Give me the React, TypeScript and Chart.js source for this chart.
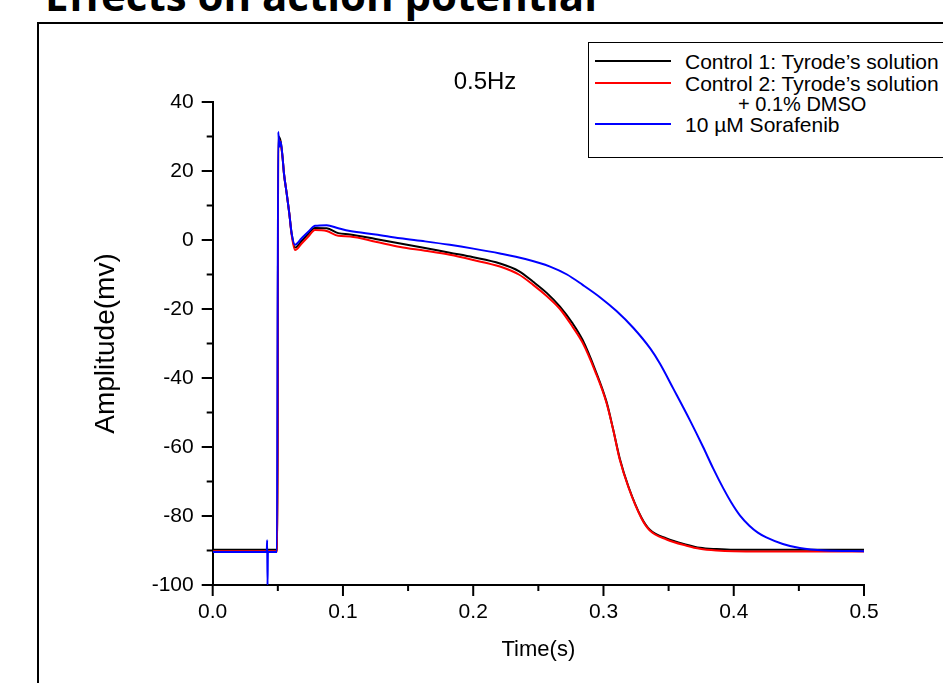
import React, { useEffect, useRef } from "react";
import { Chart, registerables } from "chart.js";

Chart.register(...registerables);

// Time (s) and membrane potential (mV)
const controlTime = [0, 0.0497, 0.0503, 0.0522, 0.0537, 0.0547, 0.0568, 0.0588, 0.0606, 0.0632, 0.0683, 0.0734, 0.0785, 0.0875, 0.0964, 0.1054, 0.125, 0.144, 0.163, 0.182, 0.2, 0.2205, 0.235, 0.246, 0.2566, 0.2666, 0.276, 0.284, 0.2935, 0.3024, 0.3075, 0.3126, 0.319, 0.3292, 0.3356, 0.3484, 0.3638, 0.374, 0.3868, 0.4, 0.45, 0.5];
const control1Mv = [-89.8, -89.8, 30, 28.5, 23.7, 19.3, 13.5, 7.7, 1.9, -2.2, -0.3, 1.8, 3.5, 3.4, 2.0, 1.6, 0.3, -1.0, -2.3, -3.7, -5.0, -6.8, -9.0, -12.1, -15.4, -19.3, -24, -29, -37.5, -47, -55, -63.5, -71.3, -80.5, -84, -86.5, -88.3, -89.2, -89.6, -89.8, -89.8, -89.8];
const control2Mv = [-90.2, -90.2, 29, 28, 23.7, 19.3, 13.5, 7.7, 1.5, -2.9, -1.0, 1.0, 2.9, 2.6, 1.2, 1.0, -0.5, -2.0, -3.1, -4.3, -5.8, -7.7, -10, -13.0, -16.3, -20.0, -25, -29.8, -38, -47.3, -55.1, -63.8, -71.5, -80.7, -84.2, -86.8, -88.6, -89.5, -90.0, -90.2, -90.3, -90.3];
const sorafenibTime = [0, 0.0415, 0.0418, 0.0421, 0.0424, 0.0485, 0.0493, 0.0503, 0.0512, 0.0522, 0.0537, 0.0547, 0.0568, 0.0588, 0.0606, 0.0632, 0.0683, 0.0734, 0.0785, 0.0875, 0.0964, 0.1054, 0.125, 0.144, 0.163, 0.182, 0.2, 0.2205, 0.24, 0.259, 0.272, 0.284, 0.297, 0.31, 0.323, 0.336, 0.3433, 0.3535, 0.3663, 0.3765, 0.3842, 0.392, 0.398, 0.4047, 0.412, 0.4185, 0.425, 0.4377, 0.4507, 0.47, 0.5];
const sorafenibMv = [-90.4, -90.4, -87, -100, -90.4, -90.4, -90.4, 31.4, 27, 28.5, 23.7, 19.3, 13.5, 7.7, 1.9, -1.4, 0.5, 2.4, 4.1, 4.3, 3.4, 2.6, 1.6, 0.5, -0.4, -1.4, -2.5, -3.9, -5.5, -7.7, -10, -13, -16.5, -20.6, -25.5, -31.5, -35.8, -43.0, -52.2, -60.0, -66.2, -72.0, -76.0, -79.8, -82.8, -84.8, -86.2, -88.1, -89.3, -90.0, -90.2];

const seriesNames = ["Control 1: Tyrode\u2019s solution", "Control 2: Tyrode\u2019s solution", "10 \u00b5M Sorafenib"];
const seriesNote = "+ 0.1% DMSO";
const seriesColors = ["#000000", "#ff0000", "#0000ff"];
const frequencyLabel = "0.5Hz";
const pageTitle = "Effects on action potential";

const xMarks = [0, 0.05, 0.1, 0.15, 0.2, 0.25, 0.3, 0.35, 0.4, 0.45, 0.5];
const yMarks = [-100, -90, -80, -70, -60, -50, -40, -30, -20, -10, 0, 10, 20, 30, 40];

const FONT = "'Liberation Sans', Arial, sans-serif";

const tickMarks = {
  id: "tickMarks",
  afterDraw(chart: any) {
    const { ctx, chartArea, scales } = chart;
    const x = scales.x;
    const y = scales.y;
    ctx.save();
    ctx.strokeStyle = "#000";
    ctx.lineWidth = 2;
    ctx.beginPath();
    xMarks.forEach((v, i) => {
      const px = x.getPixelForValue(v);
      const len = i % 2 === 0 ? 11 : 6;
      ctx.moveTo(px, chartArea.bottom);
      ctx.lineTo(px, chartArea.bottom + len);
    });
    yMarks.forEach((v, i) => {
      const py = y.getPixelForValue(v);
      const len = i % 2 === 0 ? 11 : 6;
      ctx.moveTo(chartArea.left, py);
      ctx.lineTo(chartArea.left - len, py);
    });
    ctx.stroke();
    ctx.restore();
  },
};

function toPoints(t: number[], v: number[]) {
  return t.map((tt, i) => ({ x: tt, y: v[i] }));
}

export default function App() {
  const ref = useRef<HTMLCanvasElement | null>(null);

  useEffect(() => {
    if (!ref.current) return;
    const mk = (label: string, color: string, data: any[], order: number) => ({
      label,
      data,
      borderColor: color,
      backgroundColor: color,
      borderWidth: 2,
      pointRadius: 0,
      fill: false,
      cubicInterpolationMode: "monotone" as const,
      order,
    });
    const chart = new Chart(ref.current, {
      type: "line",
      data: {
        datasets: [
          mk(seriesNames[0], seriesColors[0], toPoints(controlTime, control1Mv), 2),
          mk(seriesNames[1], seriesColors[1], toPoints(controlTime, control2Mv), 1),
          mk(seriesNames[2], seriesColors[2], toPoints(sorafenibTime, sorafenibMv), 0),
        ],
      },
      options: {
        animation: false,
        responsive: false,
        events: [],
        layout: { padding: { left: 0, right: 79, top: 102, bottom: 0 } },
        plugins: { legend: { display: false }, tooltip: { enabled: false } },
        scales: {
          x: {
            type: "linear",
            min: 0,
            max: 0.5,
            afterFit: (s: any) => { s.height = 98; },
            grid: { display: false, drawTicks: true, tickLength: 11 },
            border: { display: true, color: "#000", width: 2 },
            ticks: {
              stepSize: 0.1,
              padding: 4,
              color: "#000",
              maxRotation: 0,
              font: { family: FONT, size: 21 },
              callback: (v: any) => Number(v).toFixed(1),
            },
            title: {
              display: true,
              text: "Time(s)",
              color: "#000",
              font: { family: FONT, size: 22 },
              padding: { top: 0, bottom: 20 },
            },
          },
          y: {
            type: "linear",
            min: -100,
            max: 40,
            afterFit: (s: any) => { s.width = 212.7; },
            grid: { display: false, drawTicks: true, tickLength: 11 },
            border: { display: true, color: "#000", width: 2 },
            ticks: {
              stepSize: 20,
              padding: 8,
              color: "#000",
              font: { family: FONT, size: 21 },
              callback: (v: any) => String(v),
            },
            title: {
              display: true,
              text: "Amplitude(mv)",
              color: "#000",
              font: { family: FONT, size: 28 },
              padding: { top: 89, bottom: 0 },
            },
          },
        },
      },
      plugins: [tickMarks],
    });
    return () => chart.destroy();
  }, []);

  const legendRows = [
    { y: 61, color: seriesColors[0], text: seriesNames[0] },
    { y: 83, color: seriesColors[1], text: seriesNames[1] },
    { y: 124, color: seriesColors[2], text: seriesNames[2] },
  ];

  const textStyle = (size: number): React.CSSProperties => ({
    fontFamily: FONT,
    fontSize: size,
    lineHeight: 1,
    whiteSpace: "nowrap",
    color: "#000",
  });

  return (
    <div style={{ position: "fixed", left: 0, top: 0, width: 943, height: 683, overflow: "hidden", background: "#fff" }}>
      <div
        style={{
          position: "absolute",
          left: 45,
          top: -26,
          fontFamily: "'Open Sans', sans-serif",
          fontWeight: 700,
          fontSize: 42,
          lineHeight: 1,
          whiteSpace: "nowrap",
          color: "#000",
        }}
      >
        {pageTitle}
      </div>
      <div style={{ position: "absolute", left: 37, top: 22, width: 1200, height: 1200, border: "2px solid #000", boxSizing: "border-box" }} />
      <canvas ref={ref} width={943} height={683} style={{ position: "absolute", left: 0, top: 0, width: 943, height: 683 }} />
      <div style={{ position: "absolute", left: 485, top: 81, transform: "translate(-50%, -50%)", ...textStyle(24) }}>
        {frequencyLabel}
      </div>
      <div style={{ position: "absolute", left: 588, top: 42, width: 500, height: 116, border: "1.5px solid #000", background: "#fff", boxSizing: "border-box" }} />
      {legendRows.map((r, i) => (
        <React.Fragment key={i}>
          <div style={{ position: "absolute", left: 595, top: r.y - 1, width: 76, height: 2, background: r.color }} />
          <div style={{ position: "absolute", left: 685, top: r.y, transform: "translateY(-50%)", ...textStyle(21) }}>
            {r.text}
          </div>
        </React.Fragment>
      ))}
      <div style={{ position: "absolute", left: 738, top: 104, transform: "translateY(-50%)", ...textStyle(20) }}>
        {seriesNote}
      </div>
    </div>
  );
}
